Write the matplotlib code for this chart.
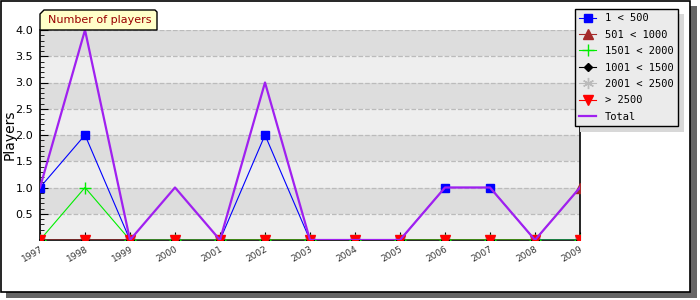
import matplotlib.pyplot as plt
import matplotlib.patches as mpatches

# dados
anos = [1997, 1998, 1999, 2000, 2001, 2002, 2003, 2004, 2005, 2006, 2007, 2008, 2009]
s_1_500 = [1, 2, 0, 0, 0, 2, 0, 0, 0, 1, 1, 0, 0]
s_501_1000 = [0, 0, 0, 0, 0, 0, 0, 0, 0, 0, 0, 0, 1]
s_1501_2000 = [0, 1, 0, 0, 0, 0, 0, 0, 0, 0, 0, 0, 0]
s_1001_1500 = [0, 0, 0, 0, 0, 0, 0, 0, 0, 0, 0, 0, 0]
s_2001_2500 = [0, 0, 0, 0, 0, 0, 0, 0, 0, 0, 0, 0, 0]
s_2500 = [0, 0, 0, 0, 0, 0, 0, 0, 0, 0, 0, 0, 0]
total = [1, 4, 0, 1, 0, 3, 0, 0, 0, 1, 1, 0, 1]

W, H = 700, 300
fig = plt.figure(figsize=(7, 3), dpi=100)


def px(x, y, w, h):
    # retangulo em pixels (origem no topo) -> coords da figura
    return (x / W, 1 - (y + h) / H), w / W, h / H


# moldura com sombra
xy, w, h = px(6, 6, 691, 292)
fig.add_artist(mpatches.Rectangle(xy, w, h, transform=fig.transFigure,
                                  facecolor='#666666', edgecolor='none', zorder=0))
xy, w, h = px(1, 1, 689, 291)
fig.add_artist(mpatches.Rectangle(xy, w, h, transform=fig.transFigure,
                                  facecolor='white', edgecolor='black', lw=1.2, zorder=0.5))

ax = fig.add_axes([40 / W, 1 - 240 / H, 540 / W, 210 / H])
ax.set_zorder(1)
ax.patch.set_facecolor('#eeeeee')

# faixas alternadas
for i in range(8):
    cor = '#dddddd' if i % 2 == 1 else '#eeeeee'
    ax.axhspan(i * 0.5, (i + 1) * 0.5, color=cor, zorder=0, lw=0)

ax.plot(anos, s_1_500, color='blue', lw=0.8, marker='s', ms=6, label='1 < 500', zorder=3)
ax.plot(anos, s_501_1000, color='#a52a2a', lw=0.8, marker='^', ms=7, label='501 < 1000', zorder=3)
ax.plot(anos, s_1501_2000, color='#00ee00', lw=0.8, marker='+', ms=9, mew=1, label='1501 < 2000', zorder=3)
ax.plot(anos, s_1001_1500, color='black', lw=0.8, marker='D', ms=4, label='1001 < 1500', zorder=3)
ax.plot(anos, s_2001_2500, color='#bbbbbb', lw=0.8, marker=(6, 2, 0), ms=8, label='2001 < 2500', zorder=3)
ax.plot(anos, s_2500, color='red', lw=0.8, marker='v', ms=7, label='> 2500', zorder=3)
ax.plot(anos, total, color='#a020f0', lw=1.6, label='Total', zorder=4)

ax.set_xlim(1997, 2009)
ax.set_ylim(0, 4)
ax.set_xticks(anos)
ax.set_xticklabels([str(a) for a in anos], rotation=30, ha='right',
                   rotation_mode='anchor', fontsize=6.5, color='#333333')
ax.set_yticks([0.5, 1.0, 1.5, 2.0, 2.5, 3.0, 3.5, 4.0])
ax.set_yticklabels(['0.5', '1.0', '1.5', '2.0', '2.5', '3.0', '3.5', '4.0'], fontsize=8)
ax.set_yticks([i / 10 for i in range(41)], minor=True)
ax.tick_params(axis='y', which='major', direction='in', length=6, pad=5)
ax.tick_params(axis='y', which='minor', direction='in', length=3)
ax.tick_params(axis='x', direction='in', length=6, pad=3)
ax.yaxis.grid(True, linestyle='--', color='#bbbbbb', lw=0.9)
ax.set_axisbelow(True)
ax.spines['top'].set_visible(False)
for s in ['left', 'bottom', 'right']:
    ax.spines[s].set_linewidth(1.2)

ax.set_ylabel('Players', fontsize=10)
ax.yaxis.set_label_coords(-0.043, 0.5)

# aba do titulo
pts = [(40, 30), (40, 14), (44, 10), (155, 10), (157, 12), (157, 30)]
pts = [(x / W, 1 - y / H) for x, y in pts]
fig.add_artist(mpatches.Polygon(pts, closed=True, transform=fig.transFigure,
                                facecolor='#ffffc8', edgecolor='black', lw=1, zorder=2))
fig.text(100 / W, 1 - 20 / H, 'Number of players', ha='center', va='center',
         fontsize=8, color='#990000', zorder=3)

# legenda com sombra
xy, w, h = px(580, 14, 104, 118)
fig.add_artist(mpatches.Rectangle(xy, w, h, transform=fig.transFigure,
                                  facecolor='#d8d8d8', edgecolor='none', zorder=3))
handles, labels = ax.get_legend_handles_labels()
leg = fig.legend(handles, labels, loc='upper left', bbox_to_anchor=(575 / W, 1 - 9 / H),
                 bbox_transform=fig.transFigure, borderaxespad=0,
                 prop={'family': 'DejaVu Sans Mono', 'size': 7.5},
                 fancybox=False, framealpha=1, facecolor='#ebebeb', edgecolor='black',
                 handlelength=1.6, handletextpad=0.9, labelspacing=0.62, borderpad=0.4)
leg.get_frame().set_linewidth(1)
leg.set_zorder(6)

fig.savefig('out.png', dpi=100)
